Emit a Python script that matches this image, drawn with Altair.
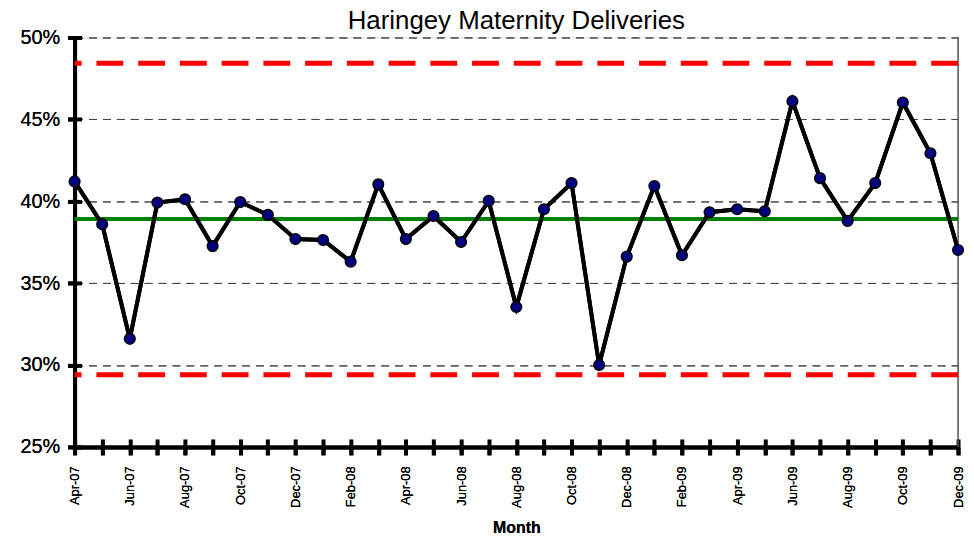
import json
import altair as alt
import pandas as pd

months = ['Apr-07', 'May-07', 'Jun-07', 'Jul-07', 'Aug-07', 'Sep-07', 'Oct-07', 'Nov-07', 'Dec-07',
          'Jan-08', 'Feb-08', 'Mar-08', 'Apr-08', 'May-08', 'Jun-08', 'Jul-08', 'Aug-08', 'Sep-08',
          'Oct-08', 'Nov-08', 'Dec-08', 'Jan-09', 'Feb-09', 'Mar-09', 'Apr-09', 'May-09', 'Jun-09',
          'Jul-09', 'Aug-09', 'Sep-09', 'Oct-09', 'Nov-09', 'Dec-09']
rates = [41.21, 38.60, 31.60, 39.92, 40.12, 37.26, 39.95, 39.17, 37.69,
         37.63, 36.31, 41.03, 37.69, 39.10, 37.51, 40.02, 33.54, 39.51,
         41.11, 30.00, 36.62, 40.93, 36.70, 39.33, 39.51, 39.39, 46.11,
         41.41, 38.80, 41.11, 46.03, 42.93, 37.02]
labelled_months = months[::2]
y_ticks = [25, 30, 35, 40, 45, 50]
mean_level = [38.92]
control_limits = [48.42, 29.41]

FONT = "Liberation Sans"
W, H = 889, 412

df = pd.DataFrame({"month": months, "rate": rates})
mean_df = pd.DataFrame({"level": mean_level})
lim_df = pd.DataFrame({"level": control_limits})
edge_df = pd.DataFrame({"month": months[-1:]})

xscale = alt.Scale(type="point", padding=0, domain=months)
yscale = alt.Scale(domain=[25, 50], nice=False, zero=False)

label_expr = "indexof(" + json.dumps(labelled_months) + ", datum.value) >= 0 ? datum.value : ''"

x_main = alt.X("month:O", sort=months, scale=xscale, axis=alt.Axis(
    orient="bottom", labelExpr=label_expr, labelAngle=270, labelAlign="right",
    labelBaseline="middle", labelPadding=11, labelFont=FONT, labelFontSize=13,
    labelFontWeight="normal", labelColor="black", tickSize=8, tickWidth=4,
    tickColor="black", domainWidth=4, domainColor="black", grid=False,
    labelOverlap=False, labelBound=False,
    title="Month", titleFont=FONT, titleFontSize=16, titleFontWeight="bold",
    titleColor="black", titlePadding=12))
y_main = alt.Y("rate:Q", scale=yscale, axis=alt.Axis(
    orient="left", values=y_ticks, labelExpr="datum.value + '%'", labelFont=FONT,
    labelFontSize=20, labelFontWeight="normal", labelColor="black", labelPadding=8,
    tickSize=7, tickWidth=4, tickColor="black", domainWidth=4, domainColor="black",
    grid=True, gridDash=[8, 6], gridColor="#444444", gridWidth=1, title=None))

x_inner = alt.X("month:O", sort=months, scale=xscale, axis=alt.Axis(
    orient="top", offset=-H, labels=False, domain=False, tickSize=8, tickWidth=4,
    tickColor="black", grid=False, title=None))
y_inner = alt.Y("rate:Q", scale=yscale, axis=alt.Axis(
    orient="right", offset=-W, values=y_ticks, labels=False, domain=False, tickSize=7,
    tickWidth=4, tickColor="black", grid=False, title=None))

base = alt.Chart(df)

line = base.mark_line(color="black", strokeWidth=4).encode(x=x_main, y=y_main)
inner = base.mark_point(opacity=0).encode(x=x_inner, y=y_inner)
edge = alt.Chart(edge_df).mark_rule(color="#555555", strokeWidth=1.5).encode(
    x=alt.X("month:O", sort=months, scale=xscale, axis=None),
    y=alt.value(0), y2=alt.value(H))
limits = alt.Chart(lim_df).mark_rule(color="#FF0000", strokeWidth=5, strokeDash=[27, 15]).encode(
    y=alt.Y("level:Q", scale=yscale, axis=None))
mean = alt.Chart(mean_df).mark_rule(color="#008000", strokeWidth=4).encode(
    y=alt.Y("level:Q", scale=yscale, axis=None))
pts = base.mark_circle(color="#000080", stroke="black", strokeWidth=1.5, size=115, opacity=1).encode(
    x=alt.X("month:O", sort=months, scale=xscale, axis=None),
    y=alt.Y("rate:Q", scale=yscale, axis=None))

chart = alt.layer(line, inner, edge, limits, mean, line, pts).resolve_axis(
    x="independent", y="independent"
).properties(
    width=W, height=H,
    title=alt.TitleParams("Haringey Maternity Deliveries", font=FONT, fontSize=26,
                          fontWeight="normal", color="black", anchor="middle",
                          frame="group", baseline="alphabetic", offset=0, dy=27),
    autosize=alt.AutoSizeParams(type="none"),
    padding={"left": 67, "top": 28, "right": 8, "bottom": 88},
).configure_view(stroke=None).configure(background="white")

chart.save("out.html", embed_options={"renderer": "svg", "actions": False})
